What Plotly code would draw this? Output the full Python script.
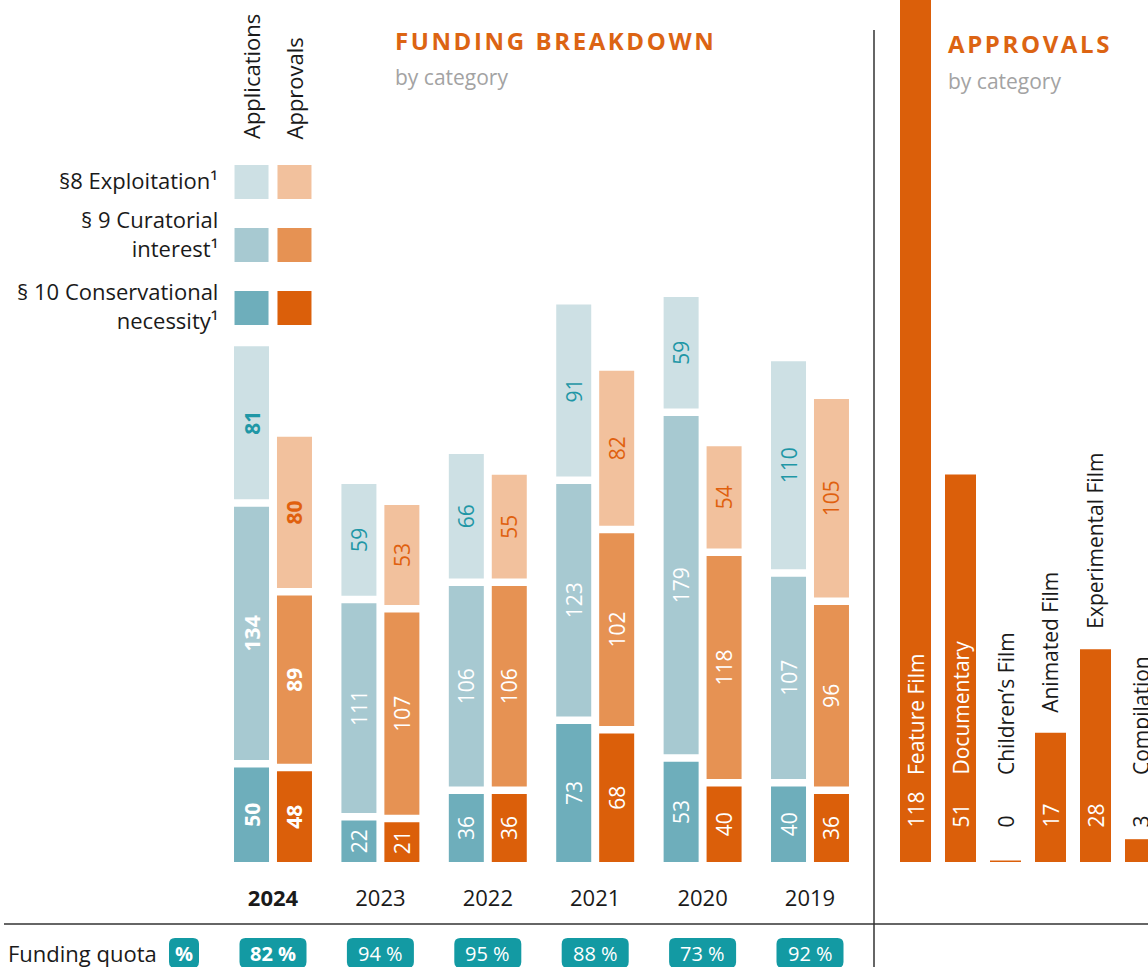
import plotly.graph_objects as go

# funding breakdown by year (applications vs approvals)
years = ["2024", "2023", "2022", "2021", "2020", "2019"]
app_exploitation = [81, 59, 66, 91, 59, 110]
app_curatorial = [134, 111, 106, 123, 179, 107]
app_conservational = [50, 22, 36, 73, 53, 40]
appr_exploitation = [80, 53, 55, 82, 54, 105]
appr_curatorial = [89, 107, 106, 102, 118, 96]
appr_conservational = [48, 21, 36, 68, 40, 36]
funding_quota = [82, 94, 95, 88, 73, 92]

# approvals by film category
film_categories = ["Feature Film", "Documentary", "Children’s Film",
                   "Animated Film", "Experimental Film", "Compilation"]
film_approvals = [118, 51, 0, 17, 28, 3]

legend_labels = ["§8 Exploitation¹",
                 "§ 9 Curatorial<br>interest¹",
                 "§ 10 Conservational<br>necessity¹"]

FONT = "Open Sans"
W, H = 1148, 967
BASE = 862          # px of the bar baseline
LEFT_PPU = 1.89     # px per unit, left panel
RIGHT_PPU = 7.6     # px per unit, right panel
GAP = 7.5 / LEFT_PPU
DIV_X = 874
X0, STEP = 273, 107.4
XR0, STEPR = 915.5, 45

ORANGE = "#db5f0a"
BADGE = "#139aa3"
TITLE = "#dc6413"
GREY = "#a3a3a3"
INK = "#1a1a1a"


def py(p):
    return (H - p) / H


def lx(p):
    return (p - X0) / STEP


idx = list(range(len(years)))
fig = go.Figure()

bar_w = 35 / STEP
sides = [
    (-0.2, [(app_conservational, "#6eaebb", "white"),
            (app_curatorial, "#a7c9d1", "white"),
            (app_exploitation, "#cde0e4", "#1f97a6")]),
    (0.2, [(appr_conservational, "#db5f0a", "white"),
           (appr_curatorial, "#e69253", "white"),
           (appr_exploitation, "#f2c19d", "#e0600e")]),
]
for off, segs in sides:
    bases = [0] * len(years)
    for vals, col, tcol in segs:
        texts = ["<b>%d</b>" % v if i == 0 else str(v) for i, v in enumerate(vals)]
        fig.add_trace(go.Bar(
            x=[i + off for i in idx], y=vals, base=list(bases), width=bar_w,
            marker=dict(color=col, line=dict(width=0)),
            text=texts, textposition="inside", insidetextanchor="middle",
            textangle=-90, constraintext="none",
            textfont=dict(family=FONT, size=21, color=tcol),
            hoverinfo="skip", showlegend=False, xaxis="x", yaxis="y"))
        bases = [b + v + GAP for b, v in zip(bases, vals)]

# legend squares
leg_y = [182, 245, 308]
leg_cols = [("#cde0e4", "#f2c19d"), ("#a7c9d1", "#e69253"), ("#6eaebb", "#db5f0a")]
for yy, (c1, c2) in zip(leg_y, leg_cols):
    fig.add_trace(go.Scatter(
        x=[-0.2, 0.2], y=[(BASE - yy) / LEFT_PPU] * 2, mode="markers",
        marker=dict(symbol="square", size=34, color=[c1, c2], line=dict(width=0)),
        hoverinfo="skip", showlegend=False, cliponaxis=False, xaxis="x", yaxis="y"))

# right panel bars
rbar_w = 31 / STEPR
jdx = list(range(len(film_categories)))
fig.add_trace(go.Bar(
    x=jdx, y=film_approvals, width=rbar_w, marker=dict(color=ORANGE, line=dict(width=0)),
    hoverinfo="skip", showlegend=False, xaxis="x2", yaxis="y2"))
for j, v in zip(jdx, film_approvals):
    if v == 0:
        fig.add_trace(go.Scatter(
            x=[j - rbar_w / 2, j + rbar_w / 2], y=[0, 0], mode="lines",
            line=dict(color=ORANGE, width=3), hoverinfo="skip", showlegend=False,
            xaxis="x2", yaxis="y2"))

annotations = []


def ann(**kw):
    base = dict(showarrow=False, font=dict(family=FONT, size=22, color=INK))
    if "font" in kw:
        base["font"].update(kw.pop("font"))
    base.update(kw)
    annotations.append(base)


# right panel labels
for j, (cat, v) in enumerate(zip(film_categories, film_approvals)):
    bar_px = v * RIGHT_PPU
    num_col = "white" if bar_px >= 80 else INK
    ann(x=j, y=0, xref="x2", yref="y2", yanchor="bottom", yshift=32, text=str(v),
        textangle=-90, font=dict(size=21, color=num_col))
    est = len(cat) * 11
    if bar_px >= 85 + est + 15:
        lab_px, lab_col = 85, "white"
    else:
        lab_px, lab_col = max(bar_px + 18, 85), INK
    ann(x=j, y=lab_px / RIGHT_PPU, xref="x2", yref="y2", yanchor="bottom", text=cat,
        textangle=-90, font=dict(size=21, color=lab_col))

# titles
ann(x=393 / W, y=py(41), xref="paper", yref="paper", xanchor="left", yanchor="middle",
    text='<span style="letter-spacing:2.6px">FUNDING BREAKDOWN</span>',
    font=dict(size=24, color=TITLE, weight=700))
ann(x=393 / W, y=py(77), xref="paper", yref="paper", xanchor="left", yanchor="middle",
    text="by category", font=dict(size=21, color=GREY))
ann(x=946 / W, y=py(44), xref="paper", yref="paper", xanchor="left", yanchor="middle",
    text='<span style="letter-spacing:2.6px">APPROVALS</span>',
    font=dict(size=24, color=TITLE, weight=700))
ann(x=946 / W, y=py(81), xref="paper", yref="paper", xanchor="left", yanchor="middle",
    text="by category", font=dict(size=21, color=GREY))

# column headers
for off, t in [(-0.2, "Applications"), (0.2, "Approvals")]:
    ann(x=off, y=py(141), xref="x", yref="paper", yanchor="bottom", text=t, textangle=-90)

# legend labels
for t, yy in zip(legend_labels, [180, 233, 305]):
    ann(x=220 / W, y=py(yy), xref="paper", yref="paper", xanchor="right", yanchor="middle",
        align="right", text=t, font=dict(size=22))

# funding quota row
ann(x=6 / W, y=py(953), xref="paper", yref="paper", xanchor="left", yanchor="middle",
    text="Funding quota", font=dict(size=22))

shapes = []


def rounded(x0, x1, y0, y1, rx, ry):
    return ("M{a},{y0} L{b},{y0} Q{x1},{y0} {x1},{c} L{x1},{d} Q{x1},{y1} {b},{y1} "
            "L{a},{y1} Q{x0},{y1} {x0},{d} L{x0},{c} Q{x0},{y0} {a},{y0} Z").format(
        a=x0 + rx, b=x1 - rx, c=y0 + ry, d=y1 - ry, x0=x0, x1=x1, y0=y0, y1=y1)


badge_top, badge_bot = py(938), py(968)
rx, ry = 6 / STEP, 6 / H
badges = [(lx(184), 15, "<b>%</b>")]
badges += [(i, 33.5, ("<b>%d %%</b>" % q) if i == 0 else "%d %%" % q)
           for i, q in zip(idx, funding_quota)]
for cx, hw, t in badges:
    hw = hw / STEP
    shapes.append(dict(type="path", xref="x", yref="paper",
                       path=rounded(cx - hw, cx + hw, badge_bot, badge_top, rx, ry),
                       fillcolor=BADGE, line=dict(width=0), layer="above"))
    ann(x=cx, y=py(953), xref="x", yref="paper", yanchor="middle", text=t,
        font=dict(size=20, color="white"))

# divider lines
shapes.append(dict(type="line", xref="paper", yref="paper", x0=4 / W, x1=1,
                   y0=py(924), y1=py(924), line=dict(color="#333333", width=1.5)))
shapes.append(dict(type="line", xref="paper", yref="paper", x0=DIV_X / W, x1=DIV_X / W,
                   y0=0, y1=py(30), line=dict(color="#333333", width=1.5)))

fig.update_layout(
    width=W, height=H, margin=dict(l=0, r=0, t=0, b=0),
    paper_bgcolor="white", plot_bgcolor="white",
    barmode="overlay", showlegend=False,
    font=dict(family=FONT, color=INK),
    xaxis=dict(domain=[0, DIV_X / W], range=[lx(0), lx(DIV_X)], anchor="y",
               showgrid=False, zeroline=False, showline=False, ticks="",
               tickvals=idx, ticktext=["<b>%s</b>" % y if i == 0 else y for i, y in enumerate(years)],
               tickfont=dict(family=FONT, size=22, color=INK), ticklabelstandoff=21),
    yaxis=dict(domain=[py(BASE), 1], range=[0, BASE / LEFT_PPU], visible=False, anchor="x"),
    xaxis2=dict(domain=[DIV_X / W, 1], range=[-(XR0 - DIV_X) / STEPR, (W - XR0) / STEPR],
                anchor="y2", visible=False),
    yaxis2=dict(domain=[py(BASE), 1], range=[0, BASE / RIGHT_PPU], visible=False, anchor="x2"),
    annotations=annotations, shapes=shapes,
)

fig.write_html("out.html", config={"displayModeBar": False},
               post_script="document.body.style.margin='0px';")
